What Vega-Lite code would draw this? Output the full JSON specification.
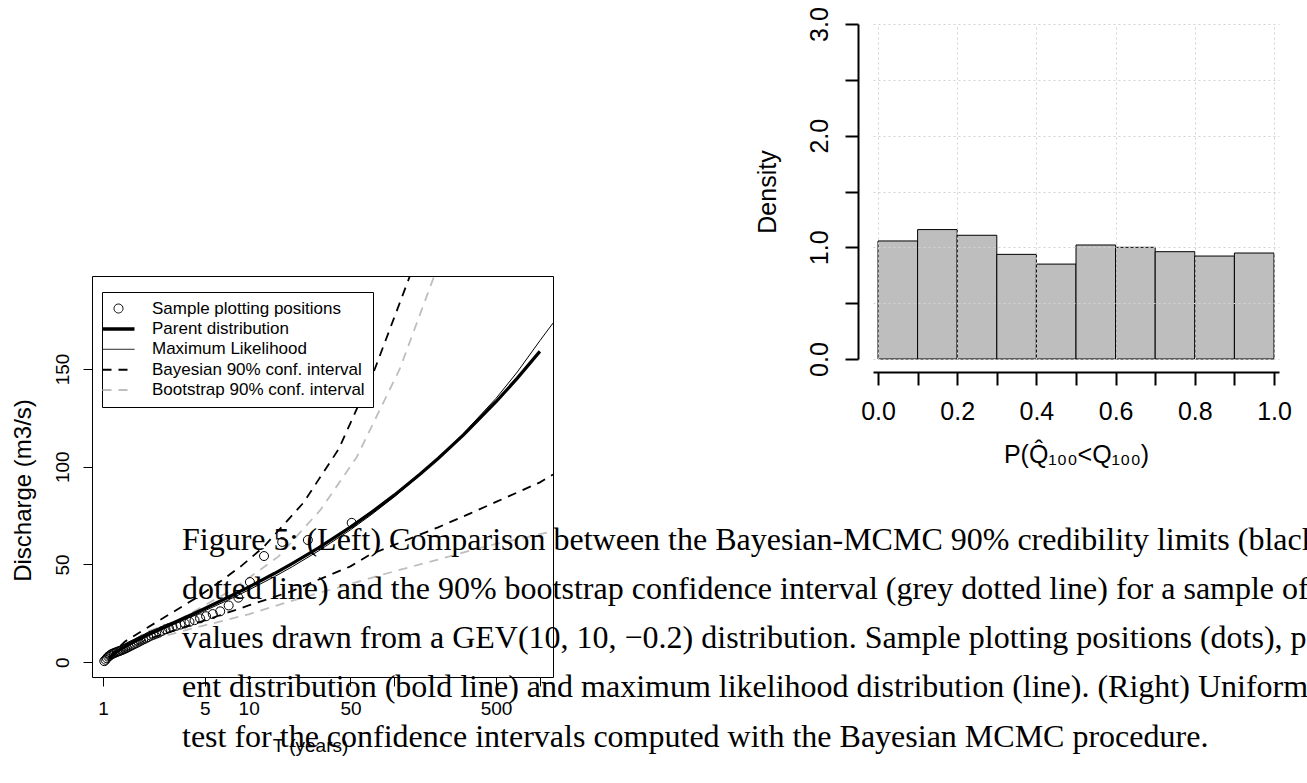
{
  "$schema": "https://vega.github.io/schema/vega-lite/v6.json",
  "padding": {"left": 10, "top": 6, "right": 0, "bottom": 0},
  "background": "white",
  "title": {
    "text": [
      "Figure 5:  (Left) Comparison between the Bayesian-MCMC 90% credibility limits (black",
      "dotted line) and the 90% bootstrap confidence interval (grey dotted line) for a sample of",
      "values drawn from a GEV(10, 10, −0.2) distribution. Sample plotting positions (dots), par-",
      "ent distribution (bold line) and maximum likelihood distribution (line). (Right) Uniformity",
      "test for the confidence intervals computed with the Bayesian MCMC procedure."
    ],
    "orient": "bottom",
    "anchor": "start",
    "frame": "group",
    "offset": 0,
    "dx": 90,
    "dy": -231,
    "font": "Liberation Serif",
    "fontSize": 32,
    "fontWeight": "normal",
    "lineHeight": 49.3,
    "color": "black"
  },
  "datasets": {
    "samples": [
      {"series": "Sample plotting positions", "T": 51, "Q": 71.3},
      {"series": "Sample plotting positions", "T": 25.5, "Q": 62.5},
      {"series": "Sample plotting positions", "T": 17, "Q": 61.5},
      {"series": "Sample plotting positions", "T": 12.75, "Q": 54.3},
      {"series": "Sample plotting positions", "T": 10.2, "Q": 41},
      {"series": "Sample plotting positions", "T": 8.5, "Q": 33},
      {"series": "Sample plotting positions", "T": 7.29, "Q": 29},
      {"series": "Sample plotting positions", "T": 6.375, "Q": 26},
      {"series": "Sample plotting positions", "T": 5.667, "Q": 24.6},
      {"series": "Sample plotting positions", "T": 5.1, "Q": 23.5},
      {"series": "Sample plotting positions", "T": 4.636, "Q": 22.4},
      {"series": "Sample plotting positions", "T": 4.25, "Q": 21.5},
      {"series": "Sample plotting positions", "T": 3.923, "Q": 20.6},
      {"series": "Sample plotting positions", "T": 3.643, "Q": 19.8},
      {"series": "Sample plotting positions", "T": 3.4, "Q": 19.2},
      {"series": "Sample plotting positions", "T": 3.1875, "Q": 18.6},
      {"series": "Sample plotting positions", "T": 3.0, "Q": 18.0},
      {"series": "Sample plotting positions", "T": 2.833, "Q": 17.4},
      {"series": "Sample plotting positions", "T": 2.684, "Q": 16.8},
      {"series": "Sample plotting positions", "T": 2.55, "Q": 16.0},
      {"series": "Sample plotting positions", "T": 2.4286, "Q": 15.2},
      {"series": "Sample plotting positions", "T": 2.318, "Q": 14.6},
      {"series": "Sample plotting positions", "T": 2.217, "Q": 14.0},
      {"series": "Sample plotting positions", "T": 2.125, "Q": 13.5},
      {"series": "Sample plotting positions", "T": 2.04, "Q": 12.8},
      {"series": "Sample plotting positions", "T": 1.9615, "Q": 12.1},
      {"series": "Sample plotting positions", "T": 1.8889, "Q": 11.6},
      {"series": "Sample plotting positions", "T": 1.8214, "Q": 11.0},
      {"series": "Sample plotting positions", "T": 1.7586, "Q": 10.4},
      {"series": "Sample plotting positions", "T": 1.7, "Q": 9.8},
      {"series": "Sample plotting positions", "T": 1.645, "Q": 9.3},
      {"series": "Sample plotting positions", "T": 1.594, "Q": 8.8},
      {"series": "Sample plotting positions", "T": 1.545, "Q": 8.3},
      {"series": "Sample plotting positions", "T": 1.5, "Q": 7.8},
      {"series": "Sample plotting positions", "T": 1.457, "Q": 7.3},
      {"series": "Sample plotting positions", "T": 1.4167, "Q": 6.9},
      {"series": "Sample plotting positions", "T": 1.378, "Q": 6.5},
      {"series": "Sample plotting positions", "T": 1.342, "Q": 6.1},
      {"series": "Sample plotting positions", "T": 1.3077, "Q": 5.8},
      {"series": "Sample plotting positions", "T": 1.275, "Q": 5.5},
      {"series": "Sample plotting positions", "T": 1.244, "Q": 5.2},
      {"series": "Sample plotting positions", "T": 1.214, "Q": 4.9},
      {"series": "Sample plotting positions", "T": 1.186, "Q": 4.6},
      {"series": "Sample plotting positions", "T": 1.159, "Q": 4.3},
      {"series": "Sample plotting positions", "T": 1.133, "Q": 3.9},
      {"series": "Sample plotting positions", "T": 1.109, "Q": 3.3},
      {"series": "Sample plotting positions", "T": 1.085, "Q": 2.8},
      {"series": "Sample plotting positions", "T": 1.0625, "Q": 2.0},
      {"series": "Sample plotting positions", "T": 1.0408, "Q": 1.2},
      {"series": "Sample plotting positions", "T": 1.02, "Q": 0.5}
    ],
    "curves": [
      {"series": "Parent distribution", "bound": "mid", "T": 1.1, "Q": 1.98},
      {"series": "Parent distribution", "bound": "mid", "T": 1.2, "Q": 4.5},
      {"series": "Parent distribution", "bound": "mid", "T": 1.3, "Q": 6.32},
      {"series": "Parent distribution", "bound": "mid", "T": 1.5, "Q": 9.07},
      {"series": "Parent distribution", "bound": "mid", "T": 1.7, "Q": 11.21},
      {"series": "Parent distribution", "bound": "mid", "T": 2, "Q": 13.8},
      {"series": "Parent distribution", "bound": "mid", "T": 2.5, "Q": 17.19},
      {"series": "Parent distribution", "bound": "mid", "T": 3, "Q": 19.89},
      {"series": "Parent distribution", "bound": "mid", "T": 4, "Q": 24.15},
      {"series": "Parent distribution", "bound": "mid", "T": 5, "Q": 27.49},
      {"series": "Parent distribution", "bound": "mid", "T": 7, "Q": 32.67},
      {"series": "Parent distribution", "bound": "mid", "T": 10, "Q": 38.42},
      {"series": "Parent distribution", "bound": "mid", "T": 15, "Q": 45.35},
      {"series": "Parent distribution", "bound": "mid", "T": 20, "Q": 50.56},
      {"series": "Parent distribution", "bound": "mid", "T": 30, "Q": 58.39},
      {"series": "Parent distribution", "bound": "mid", "T": 50, "Q": 69.12},
      {"series": "Parent distribution", "bound": "mid", "T": 70, "Q": 76.78},
      {"series": "Parent distribution", "bound": "mid", "T": 100, "Q": 85.47},
      {"series": "Parent distribution", "bound": "mid", "T": 150, "Q": 96.11},
      {"series": "Parent distribution", "bound": "mid", "T": 200, "Q": 104.2},
      {"series": "Parent distribution", "bound": "mid", "T": 300, "Q": 116.4},
      {"series": "Parent distribution", "bound": "mid", "T": 500, "Q": 133.26},
      {"series": "Parent distribution", "bound": "mid", "T": 700, "Q": 145.33},
      {"series": "Parent distribution", "bound": "mid", "T": 1000, "Q": 159.04},
      {"series": "Maximum Likelihood", "bound": "mid", "T": 1.1, "Q": 1.6},
      {"series": "Maximum Likelihood", "bound": "mid", "T": 1.2, "Q": 4.0},
      {"series": "Maximum Likelihood", "bound": "mid", "T": 1.3, "Q": 5.8},
      {"series": "Maximum Likelihood", "bound": "mid", "T": 1.5, "Q": 8.5},
      {"series": "Maximum Likelihood", "bound": "mid", "T": 1.7, "Q": 10.6},
      {"series": "Maximum Likelihood", "bound": "mid", "T": 2, "Q": 13.1},
      {"series": "Maximum Likelihood", "bound": "mid", "T": 2.5, "Q": 16.4},
      {"series": "Maximum Likelihood", "bound": "mid", "T": 3, "Q": 19.0},
      {"series": "Maximum Likelihood", "bound": "mid", "T": 4, "Q": 23.1},
      {"series": "Maximum Likelihood", "bound": "mid", "T": 5, "Q": 26.3},
      {"series": "Maximum Likelihood", "bound": "mid", "T": 7, "Q": 31.3},
      {"series": "Maximum Likelihood", "bound": "mid", "T": 10, "Q": 36.9},
      {"series": "Maximum Likelihood", "bound": "mid", "T": 15, "Q": 43.7},
      {"series": "Maximum Likelihood", "bound": "mid", "T": 20, "Q": 48.9},
      {"series": "Maximum Likelihood", "bound": "mid", "T": 30, "Q": 56.8},
      {"series": "Maximum Likelihood", "bound": "mid", "T": 50, "Q": 67.7},
      {"series": "Maximum Likelihood", "bound": "mid", "T": 70, "Q": 75.6},
      {"series": "Maximum Likelihood", "bound": "mid", "T": 100, "Q": 84.6},
      {"series": "Maximum Likelihood", "bound": "mid", "T": 150, "Q": 95.7},
      {"series": "Maximum Likelihood", "bound": "mid", "T": 200, "Q": 104.2},
      {"series": "Maximum Likelihood", "bound": "mid", "T": 300, "Q": 117.2},
      {"series": "Maximum Likelihood", "bound": "mid", "T": 500, "Q": 135.0},
      {"series": "Maximum Likelihood", "bound": "mid", "T": 700, "Q": 148.5},
      {"series": "Maximum Likelihood", "bound": "mid", "T": 1000, "Q": 164.5},
      {"series": "Maximum Likelihood", "bound": "mid", "T": 1230, "Q": 173.5},
      {"series": "Bayesian 90% conf. interval", "bound": "upper", "T": 1.1, "Q": 2.5},
      {"series": "Bayesian 90% conf. interval", "bound": "upper", "T": 1.41, "Q": 10.5},
      {"series": "Bayesian 90% conf. interval", "bound": "upper", "T": 2, "Q": 17.5},
      {"series": "Bayesian 90% conf. interval", "bound": "upper", "T": 2.93, "Q": 25},
      {"series": "Bayesian 90% conf. interval", "bound": "upper", "T": 4.5, "Q": 33.5},
      {"series": "Bayesian 90% conf. interval", "bound": "upper", "T": 6.45, "Q": 41.5},
      {"series": "Bayesian 90% conf. interval", "bound": "upper", "T": 9, "Q": 49.5},
      {"series": "Bayesian 90% conf. interval", "bound": "upper", "T": 12.7, "Q": 59},
      {"series": "Bayesian 90% conf. interval", "bound": "upper", "T": 23.8, "Q": 81.6},
      {"series": "Bayesian 90% conf. interval", "bound": "upper", "T": 41.5, "Q": 109},
      {"series": "Bayesian 90% conf. interval", "bound": "upper", "T": 73.5, "Q": 150},
      {"series": "Bayesian 90% conf. interval", "bound": "upper", "T": 128, "Q": 197.6},
      {"series": "Bayesian 90% conf. interval", "bound": "upper", "T": 150, "Q": 212},
      {"series": "Bayesian 90% conf. interval", "bound": "lower", "T": 1.1, "Q": 1},
      {"series": "Bayesian 90% conf. interval", "bound": "lower", "T": 2, "Q": 11.5},
      {"series": "Bayesian 90% conf. interval", "bound": "lower", "T": 4, "Q": 19},
      {"series": "Bayesian 90% conf. interval", "bound": "lower", "T": 6.35, "Q": 24},
      {"series": "Bayesian 90% conf. interval", "bound": "lower", "T": 10, "Q": 29},
      {"series": "Bayesian 90% conf. interval", "bound": "lower", "T": 20, "Q": 36.5},
      {"series": "Bayesian 90% conf. interval", "bound": "lower", "T": 27.6, "Q": 41},
      {"series": "Bayesian 90% conf. interval", "bound": "lower", "T": 50, "Q": 49},
      {"series": "Bayesian 90% conf. interval", "bound": "lower", "T": 68, "Q": 55},
      {"series": "Bayesian 90% conf. interval", "bound": "lower", "T": 100, "Q": 60},
      {"series": "Bayesian 90% conf. interval", "bound": "lower", "T": 200, "Q": 69},
      {"series": "Bayesian 90% conf. interval", "bound": "lower", "T": 330, "Q": 76},
      {"series": "Bayesian 90% conf. interval", "bound": "lower", "T": 500, "Q": 82},
      {"series": "Bayesian 90% conf. interval", "bound": "lower", "T": 1000, "Q": 92},
      {"series": "Bayesian 90% conf. interval", "bound": "lower", "T": 1230, "Q": 96},
      {"series": "Bootstrap 90% conf. interval", "bound": "upper", "T": 1.1, "Q": 2},
      {"series": "Bootstrap 90% conf. interval", "bound": "upper", "T": 2, "Q": 15.5},
      {"series": "Bootstrap 90% conf. interval", "bound": "upper", "T": 3.3, "Q": 21.5},
      {"series": "Bootstrap 90% conf. interval", "bound": "upper", "T": 7.7, "Q": 37},
      {"series": "Bootstrap 90% conf. interval", "bound": "upper", "T": 16, "Q": 54},
      {"series": "Bootstrap 90% conf. interval", "bound": "upper", "T": 31.2, "Q": 78},
      {"series": "Bootstrap 90% conf. interval", "bound": "upper", "T": 55.3, "Q": 105},
      {"series": "Bootstrap 90% conf. interval", "bound": "upper", "T": 109, "Q": 150},
      {"series": "Bootstrap 90% conf. interval", "bound": "upper", "T": 188, "Q": 197.6},
      {"series": "Bootstrap 90% conf. interval", "bound": "upper", "T": 220, "Q": 212},
      {"series": "Bootstrap 90% conf. interval", "bound": "lower", "T": 1.1, "Q": 1},
      {"series": "Bootstrap 90% conf. interval", "bound": "lower", "T": 2, "Q": 11},
      {"series": "Bootstrap 90% conf. interval", "bound": "lower", "T": 4, "Q": 17},
      {"series": "Bootstrap 90% conf. interval", "bound": "lower", "T": 10, "Q": 24.5},
      {"series": "Bootstrap 90% conf. interval", "bound": "lower", "T": 20, "Q": 31.5},
      {"series": "Bootstrap 90% conf. interval", "bound": "lower", "T": 50, "Q": 40},
      {"series": "Bootstrap 90% conf. interval", "bound": "lower", "T": 100, "Q": 46.5},
      {"series": "Bootstrap 90% conf. interval", "bound": "lower", "T": 200, "Q": 52.5},
      {"series": "Bootstrap 90% conf. interval", "bound": "lower", "T": 330, "Q": 57},
      {"series": "Bootstrap 90% conf. interval", "bound": "lower", "T": 500, "Q": 60.5},
      {"series": "Bootstrap 90% conf. interval", "bound": "lower", "T": 1000, "Q": 65.5},
      {"series": "Bootstrap 90% conf. interval", "bound": "lower", "T": 1230, "Q": 67}
    ],
    "hist": [
      {"lo": 0.0, "hi": 0.1, "density": 1.057},
      {"lo": 0.1, "hi": 0.2, "density": 1.159},
      {"lo": 0.2, "hi": 0.3, "density": 1.108},
      {"lo": 0.3, "hi": 0.4, "density": 0.937},
      {"lo": 0.4, "hi": 0.5, "density": 0.85},
      {"lo": 0.5, "hi": 0.6, "density": 1.021},
      {"lo": 0.6, "hi": 0.7, "density": 1.0},
      {"lo": 0.7, "hi": 0.8, "density": 0.961},
      {"lo": 0.8, "hi": 0.9, "density": 0.922},
      {"lo": 0.9, "hi": 1.0, "density": 0.949}
    ],
    "spacer": [{"k": 1}]
  },
  "config": {
    "view": {"stroke": null},
    "axis": {
      "labelFont": "Liberation Sans",
      "titleFont": "Liberation Sans",
      "labelColor": "black",
      "titleColor": "black",
      "titleFontWeight": "normal",
      "tickColor": "black",
      "domainColor": "black",
      "grid": false
    },
    "legend": {
      "orient": "none",
      "legendX": 10,
      "legendY": 268,
      "padding": 8,
      "strokeColor": "black",
      "fillColor": "white",
      "labelFont": "Liberation Sans",
      "labelFontSize": 17,
      "labelColor": "black",
      "symbolSize": 400,
      "rowPadding": 2.4,
      "labelOffset": 25,
      "labelLimit": 400
    }
  },
  "spacing": 201,
  "hconcat": [
    {
      "spacing": 0,
      "vconcat": [
        {
          "width": 461,
          "height": 251,
          "data": {"name": "spacer"},
          "mark": {"type": "point", "opacity": 0}
        },
        {
          "width": 461,
          "height": 401,
          "view": {"stroke": "black", "strokeWidth": 1},
          "encoding": {
            "x": {
              "field": "T",
              "type": "quantitative",
              "scale": {"type": "log", "domain": [0.84, 1230], "nice": false},
              "axis": {
                "values": [1, 5, 10, 50, 100, 500, 1000],
                "labelExpr": "(datum.value == 100 || datum.value == 1000) ? '' : format(datum.value, 'd')",
                "domain": false,
                "tickSize": 9,
                "labelFontSize": 19,
                "labelPadding": 13,
                "title": "T (years)",
                "titleFontSize": 19,
                "titlePadding": 18,
                "titleX": 218
              }
            },
            "y": {
              "field": "Q",
              "type": "quantitative",
              "scale": {"domain": [-7.6, 197.6], "nice": false, "zero": false},
              "axis": {
                "values": [0, 50, 100, 150],
                "labelAngle": -90,
                "labelAlign": "center",
                "labelBaseline": "alphabetic",
                "labelPadding": 15,
                "labelFontSize": 19,
                "domain": false,
                "tickSize": 9,
                "title": "Discharge (m3/s)",
                "titleFontSize": 24,
                "titlePadding": 18,
                "titleY": 214
              }
            }
          },
          "layer": [
            {
              "data": {"name": "curves"},
              "transform": [{"filter": {"field": "series", "oneOf": ["Bayesian 90% conf. interval", "Bootstrap 90% conf. interval"]}}],
              "mark": {"type": "line", "strokeWidth": 1.8, "clip": true},
              "encoding": {
                "detail": {"field": "bound", "type": "nominal"},
                "color": {
                  "field": "series", "type": "nominal",
                  "scale": {"domain": ["Sample plotting positions", "Parent distribution", "Maximum Likelihood", "Bayesian 90% conf. interval", "Bootstrap 90% conf. interval"], "range": ["black", "black", "black", "black", "#BEBEBE"]},
                  "legend": {"title": null, "encode": {"symbols": {"update": {"fill": {"value": "transparent"}, "strokeWidth": {"signal": "datum.value === 'Parent distribution' ? 3.5 : (datum.value === 'Maximum Likelihood' || datum.value === 'Sample plotting positions') ? 1 : 2"}}}}}
                },
                "strokeDash": {
                  "field": "series", "type": "nominal",
                  "scale": {"domain": ["Sample plotting positions", "Parent distribution", "Maximum Likelihood", "Bayesian 90% conf. interval", "Bootstrap 90% conf. interval"], "range": [[1, 0], [1, 0], [1, 0], [9, 7], [9, 7]]},
                  "legend": {"title": null}
                }
              }
            },
            {
              "data": {"name": "curves"},
              "transform": [{"filter": {"field": "series", "equal": "Maximum Likelihood"}}],
              "mark": {"type": "line", "strokeWidth": 1, "clip": true},
              "encoding": {
                "color": {"field": "series", "type": "nominal", "legend": {"title": null}}
              }
            },
            {
              "data": {"name": "curves"},
              "transform": [{"filter": {"field": "series", "equal": "Parent distribution"}}],
              "mark": {"type": "line", "strokeWidth": 3.2, "clip": true},
              "encoding": {
                "color": {"field": "series", "type": "nominal", "legend": {"title": null}}
              }
            },
            {
              "data": {"name": "samples"},
              "mark": {"type": "point", "filled": false, "strokeWidth": 1, "size": 400, "opacity": 1},
              "encoding": {
                "color": {"field": "series", "type": "nominal", "legend": {"title": null}},
                "shape": {
                  "field": "series", "type": "nominal",
                  "scale": {"domain": ["Sample plotting positions", "Parent distribution", "Maximum Likelihood", "Bayesian 90% conf. interval", "Bootstrap 90% conf. interval"], "range": ["M0.45,0A0.45,0.45,0,1,1,-0.45,0A0.45,0.45,0,1,1,0.45,0Z", "M-1.6,0L1.6,0", "M-1.6,0L1.6,0", "M-1.6,0L1.6,0", "M-1.6,0L1.6,0"]},
                  "legend": {"title": null}
                }
              }
            }
          ]
        }
      ]
    },
    {
      "width": 406,
      "height": 335,
      "data": {"name": "hist"},
      "layer": [
        {
          "mark": {"type": "bar", "orient": "vertical", "fill": "#BEBEBE", "stroke": "black", "strokeWidth": 1},
          "encoding": {
            "x": {
              "field": "lo", "type": "quantitative",
              "scale": {"domain": [0, 1], "nice": false},
              "axis": {
                "orient": "bottom",
                "values": [0, 0.1, 0.2, 0.3, 0.4, 0.5, 0.6, 0.7, 0.8, 0.9, 1],
                "labelExpr": "round(datum.value * 10) % 2 === 0 ? format(datum.value, '.1f') : ''",
                "offset": 13,
                "domainWidth": 2,
                "tickWidth": 2,
                "tickSize": 13,
                "labelFontSize": 25,
                "labelPadding": 14,
                "title": "P(Q̂₁₀₀<Q₁₀₀)",
                "titleFontSize": 25,
                "titlePadding": 18
              }
            },
            "x2": {"field": "hi"},
            "y": {
              "field": "density", "type": "quantitative",
              "scale": {"domain": [0, 3], "nice": false},
              "axis": {
                "values": [0, 0.5, 1, 1.5, 2, 2.5, 3],
                "labelExpr": "datum.value % 1 === 0 ? format(datum.value, '.1f') : ''",
                "offset": 15,
                "domainWidth": 2,
                "tickWidth": 2,
                "tickSize": 13,
                "labelAngle": -90,
                "labelAlign": "center",
                "labelBaseline": "alphabetic",
                "labelFontSize": 25,
                "labelPadding": 18,
                "grid": true,
                "gridColor": "#D3D3D3",
                "gridDash": [2, 3],
                "gridWidth": 1,
                "zindex": 1,
                "title": "Density",
                "titleFontSize": 25,
                "titlePadding": 27
              }
            }
          }
        },
        {
          "mark": {"type": "bar", "opacity": 0},
          "encoding": {
            "x": {
              "field": "lo", "type": "quantitative",
              "axis": {
                "orient": "bottom",
                "values": [0, 0.2, 0.4, 0.6, 0.8, 1],
                "grid": true,
                "gridColor": "#D3D3D3",
                "gridDash": [2, 3],
                "gridWidth": 1,
                "labels": false,
                "ticks": false,
                "domain": false,
                "title": null,
                "zindex": 1
              }
            },
            "x2": {"field": "hi"}
          }
        }
      ],
      "resolve": {"axis": {"x": "independent"}}
    }
  ]
}
